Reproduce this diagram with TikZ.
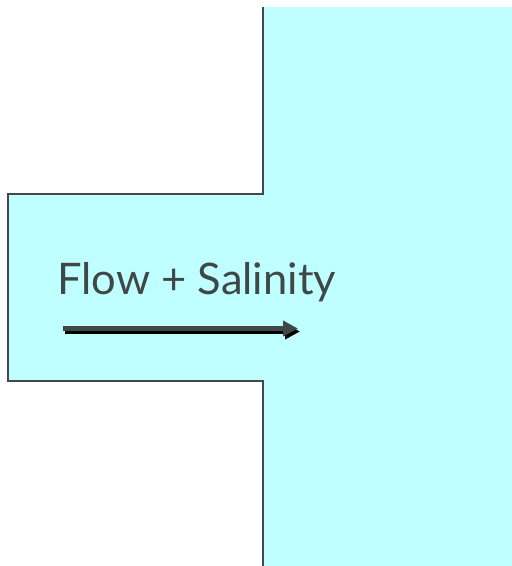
\documentclass[tikz,border=0pt]{standalone}
\usepackage{fontspec}
\setmainfont{Lato}
\usetikzlibrary{arrows.meta}
\definecolor{water}{HTML}{BFFFFF}
\definecolor{edge}{HTML}{454848}
\definecolor{ink}{HTML}{3F4747}
\definecolor{shade}{HTML}{6FA3A3}
\tikzset{
  wall/.style={draw=edge, line width=2.6pt, line join=miter},
  flowarrow/.style={line width=5pt, -{Triangle[length=15pt,width=15pt]}},
  label/.style={text=ink, font=\fontsize{43.5}{48}\selectfont, inner sep=0pt, anchor=base west}
}
\begin{document}
\begin{tikzpicture}[x=1pt,y=-1pt]
\useasboundingbox (0,0) rectangle (512,566);
\fill[water] (263,7) -- (512,7) -- (512,566) -- (263,566) -- (263,381) -- (8,381) -- (8,194) -- (263,194) -- cycle;
\draw[wall] (263,7) -- (263,194) -- (8,194) -- (8,381) -- (263,381) -- (263,566);
\node[label] (t) at (57,294) {Flow + Salinity};
\coordinate (a1) at (63,328.5);
\coordinate (a2) at (298,328.5);
\coordinate (s1) at (65,331.5);
\coordinate (s2) at (300,331.5);
\draw[flowarrow, shade] (s1) -- (s2);
\draw[flowarrow, ink] (a1) -- (a2);
\end{tikzpicture}
\end{document}
